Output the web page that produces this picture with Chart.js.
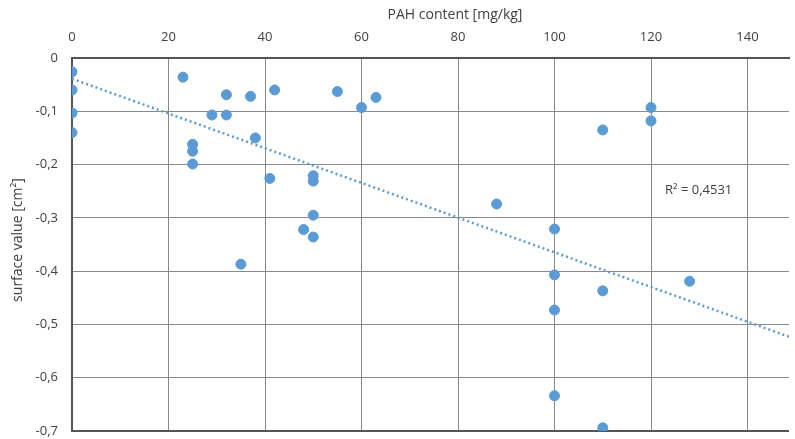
<!DOCTYPE html>
<html>
<head>
<meta charset="utf-8">
<script src="https://cdn.jsdelivr.net/npm/chart.js@4/dist/chart.umd.min.js"></script>
<style>
  html,body{margin:0;padding:0;background:#fff;}
  #wrap{width:795px;height:439px;}
</style>
</head>
<body>
<div id="wrap"><canvas id="c" width="795" height="439"></canvas></div>
<script>
// PAH content [mg/kg] vs surface value [cm²]
const pahX=[0,0,0,0,23,29,32,32,37,42,38,25,25,25,41,50,50,50,55,60,63,48,50,35,
  120,120,110,88,100,100,110,128,100,100,110];
const surfY=[-0.026,-0.060,-0.103,-0.140,-0.036,-0.107,-0.069,-0.107,-0.072,-0.060,-0.150,-0.162,-0.175,-0.199,-0.226,-0.221,-0.231,-0.295,-0.063,-0.093,-0.074,-0.322,-0.336,-0.387,
  -0.093,-0.118,-0.135,-0.274,-0.321,-0.407,-0.437,-0.419,-0.473,-0.634,-0.694];

// trendline ends
const trendX=[0,148.6];
const trendY=[-0.039,-0.523];
const r2Text="R² = 0,4531";

const xTicks=[0,20,40,60,80,100,120,140];
const BLUE="#5B9BD5";
const TXT="#404040";
const FONT="'Open Sans', 'DejaVu Sans', sans-serif";

function fmt(v){
  if(Math.abs(v)<1e-9) return "0";
  return v.toFixed(1).replace(".",",");
}

// no extra label padding round the plot area
function noPad(s){
  s.paddingLeft=0; s.paddingRight=0; s.paddingTop=0; s.paddingBottom=0;
}

const labelsPlugin={
  id:"labels",
  afterDraw(chart){
    const {ctx,scales}=chart;
    ctx.save();
    ctx.fillStyle=TXT;
    ctx.font="14px "+FONT;
    ctx.textAlign="center";
    ctx.textBaseline="middle";
    ctx.fillText("PAH content [mg/kg]",455,15);
    ctx.save();
    ctx.translate(18,240);
    ctx.rotate(-Math.PI/2);
    ctx.fillText("surface value [cm²]",0,0);
    ctx.restore();
    ctx.font="13px "+FONT;
    ctx.textAlign="left";
    ctx.fillText(r2Text,scales.x.getPixelForValue(122.9),scales.y.getPixelForValue(-0.249));
    ctx.restore();
  }
};

new Chart(document.getElementById("c"),{
  type:"scatter",
  data:{
    datasets:[
      {
        label:"surface value",
        data:pahX.map((x,i)=>({x,y:surfY[i]})),
        backgroundColor:BLUE,
        borderColor:BLUE,
        pointRadius:5,
        pointHoverRadius:5,
        order:1
      },
      {
        type:"line",
        label:"trend",
        data:trendX.map((x,i)=>({x,y:trendY[i]})),
        borderColor:BLUE,
        borderWidth:2.5,
        borderDash:[2,3],
        pointRadius:0,
        fill:false,
        order:2
      }
    ]
  },
  options:{
    responsive:false,
    animation:false,
    layout:{padding:{left:0,right:0,top:0,bottom:8}},
    plugins:{legend:{display:false},tooltip:{enabled:false}},
    scales:{
      x:{
        type:"linear",
        position:"top",
        min:0,max:148.6,
        afterBuildTicks:(s)=>{s.ticks=xTicks.map(v=>({value:v}));},
        afterFit:(s)=>{s.height=58; noPad(s);},
        ticks:{color:TXT,font:{family:FONT,size:13},padding:13,maxRotation:0},
        grid:{color:"#8a8a8a",lineWidth:1,drawTicks:false},
        border:{color:"#555",width:2}
      },
      y:{
        min:-0.7,max:0,
        afterFit:(s)=>{s.width=72; noPad(s);},
        ticks:{stepSize:0.1,color:TXT,font:{family:FONT,size:13},padding:14,callback:(v)=>fmt(v)},
        grid:{
          color:(c)=>c.tick && Math.abs(c.tick.value+0.7)<1e-6 ? "#555" : "#8a8a8a",
          lineWidth:(c)=>c.tick && Math.abs(c.tick.value+0.7)<1e-6 ? 2 : 1,
          drawTicks:false
        },
        border:{color:"#555",width:2}
      }
    }
  },
  plugins:[labelsPlugin]
});
</script>
</body>
</html>
